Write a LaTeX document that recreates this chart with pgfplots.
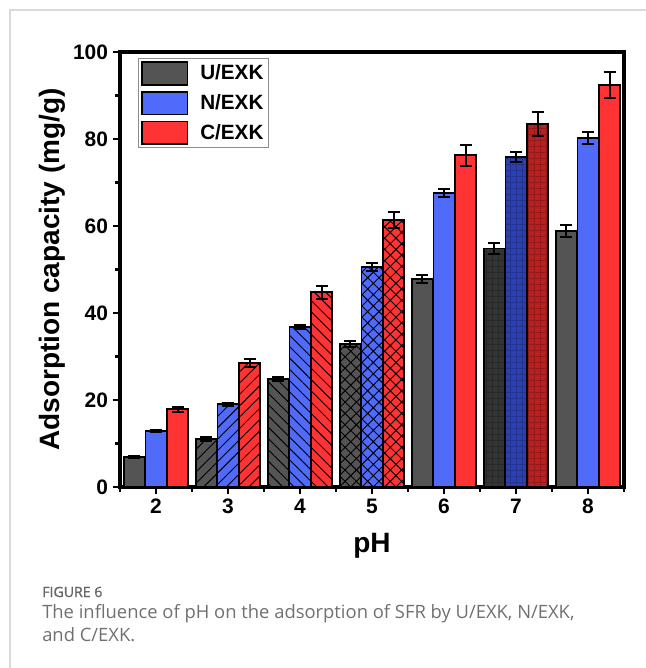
\documentclass[border=0pt]{standalone}
\usepackage{fontspec}
\setmainfont{Liberation Sans}
\newfontfamily\capfont{Open Sans}
\newfontfamily\capfontsb[FakeBold=1.3]{Open Sans}
\usepackage{pgfplots}
\pgfplotsset{compat=1.18}
\usetikzlibrary{patterns.meta}
\definecolor{cU}{RGB}{84,84,84}
\definecolor{cN}{RGB}{80,106,250}
\definecolor{cC}{RGB}{255,51,51}
\definecolor{cUd}{RGB}{52,52,52}
\definecolor{cNd}{RGB}{44,64,178}
\definecolor{cCd}{RGB}{186,32,32}
\definecolor{capgray}{RGB}{102,102,102}
\definecolor{txtgray}{RGB}{112,112,112}
\pgfplotsset{
  ebars/.style={/pgfplots/error bars/.cd, y dir=both, y explicit,
     error bar style={line width=1.5pt, black, xshift=#1},
     error mark options={rotate=90, mark size=4.5pt, line width=1.5pt, black},
     /pgfplots/.cd},
  bb/.style={ybar, bar width=0.29, draw=black, line width=1.3pt, ebars=#1},
  U/.style={bar shift=-0.3, fill=cU, bb=-16.2pt},
  N/.style={bar shift=0, fill=cN, bb=0pt},
  C/.style={bar shift=0.3, fill=cC, bb=16.2pt},
  Ud/.style={bar shift=-0.3, fill=cUd, bb=-16.2pt},
  Nd/.style={bar shift=0, fill=cNd, bb=0pt},
  Cd/.style={bar shift=0.3, fill=cCd, bb=16.2pt},
  ne/.style={postaction={pattern={Lines[angle=45,distance=6pt,line width=0.7pt]}, pattern color=black}},
  nw/.style={postaction={pattern={Lines[angle=-45,distance=6pt,line width=0.7pt]}, pattern color=black}},
  xh/.style={postaction={pattern={Hatch[angle=45,distance=6pt,line width=0.7pt]}, pattern color=black}},
  gd/.style={postaction={pattern={Hatch[angle=0,distance=4.5pt,line width=0.3pt]}, pattern color=black, opacity=0.2}},
  limg/.style={legend image code/.code={\draw[##1, line width=1.3pt] (0pt,-8.5pt) rectangle (34pt,8.5pt);}},
}
\begin{document}
\begin{tikzpicture}
\path[use as bounding box] (0,0) rectangle (484.5pt,-501pt);
\draw[black!15, line width=1.1pt] (7.5pt,-501pt) -- (7.5pt,-7.5pt) -- (484.5pt,-7.5pt);
\begin{axis}[
  at={(90pt,-365.25pt)}, anchor=south west,
  scale only axis, width=378pt, height=326.25pt,
  xmin=1.5, xmax=8.5, ymin=0, ymax=100,
  xtick={2,3,...,8}, minor xtick={1.5,2.5,...,8.5},
  ytick={0,20,...,100}, minor ytick={10,30,...,90},
  tick pos=left, tick align=outside,
  axis line style={line width=2.6pt},
  major tick style={line width=2pt, black}, minor tick style={line width=2pt, black},
  major tick length=5.5pt, minor tick length=3.5pt,
  /pgf/number format/assume math mode=true,
  ticklabel style={font=\bfseries\fontsize{15.7}{16}\selectfont},
  xlabel={pH}, ylabel={Adsorption capacity (mg/g)},
  label style={font=\bfseries\fontsize{21}{21}\selectfont},
  ylabel style={at={(axis description cs:-0.135,0.5)}, anchor=center},
  xlabel style={at={(axis description cs:0.5,-0.135)}, anchor=center},
  legend style={at={(0.036,0.986)}, anchor=north west, draw=black!45, line width=0.6pt,
    font=\bfseries\fontsize{15.5}{16}\selectfont, row sep=4pt, inner sep=2pt,
    /tikz/every odd column/.style={column sep=7pt}},
  legend cell align=left,
]
% pH 2, 6, 8 : plain
\addplot[U, limg] coordinates {(2,6.9) +- (0,0.3) (6,47.8) +- (0,1.0) (8,58.9) +- (0,1.4)};
\addplot[N, limg] coordinates {(2,12.9) +- (0,0.3) (6,67.6) +- (0,1.0) (8,80.2) +- (0,1.3)};
\addplot[C, limg] coordinates {(2,17.9) +- (0,0.6) (6,76.3) +- (0,2.4) (8,92.4) +- (0,3.0)};
\legend{U/EXK, N/EXK, C/EXK}
% pH 3 : north east lines
\addplot[U, ne, forget plot] coordinates {(3,11.0) +- (0,0.4)};
\addplot[N, ne, forget plot] coordinates {(3,19.0) +- (0,0.4)};
\addplot[C, ne, forget plot] coordinates {(3,28.5) +- (0,1.0)};
% pH 4 : north west lines
\addplot[U, nw, forget plot] coordinates {(4,24.8) +- (0,0.5)};
\addplot[N, nw, forget plot] coordinates {(4,36.8) +- (0,0.5)};
\addplot[C, nw, forget plot] coordinates {(4,44.8) +- (0,1.5)};
% pH 5 : crosshatch
\addplot[U, xh, forget plot] coordinates {(5,32.9) +- (0,0.75)};
\addplot[N, xh, forget plot] coordinates {(5,50.6) +- (0,0.9)};
\addplot[C, xh, forget plot] coordinates {(5,61.4) +- (0,1.8)};
% pH 7 : dark
\addplot[Ud, gd, forget plot] coordinates {(7,54.8) +- (0,1.3)};
\addplot[Nd, gd, forget plot] coordinates {(7,75.9) +- (0,1.2)};
\addplot[Cd, gd, forget plot] coordinates {(7,83.4) +- (0,2.8)};
\end{axis}
\node[anchor=base west, inner sep=0pt, font=\capfontsb\fontsize{10.6}{12}\selectfont, text=capgray] at (31.5pt,-447.75pt) {FIGURE 6};
\node[anchor=base west, inner sep=0pt, font=\capfont\fontsize{13.8}{15}\selectfont, text=txtgray] at (31.5pt,-463.5pt) {The influence of pH on the adsorption of SFR by U/EXK, N/EXK,};
\node[anchor=base west, inner sep=0pt, font=\capfont\fontsize{13.8}{15}\selectfont, text=txtgray] at (31.5pt,-481pt) {and C/EXK.};
\end{tikzpicture}
\end{document}
